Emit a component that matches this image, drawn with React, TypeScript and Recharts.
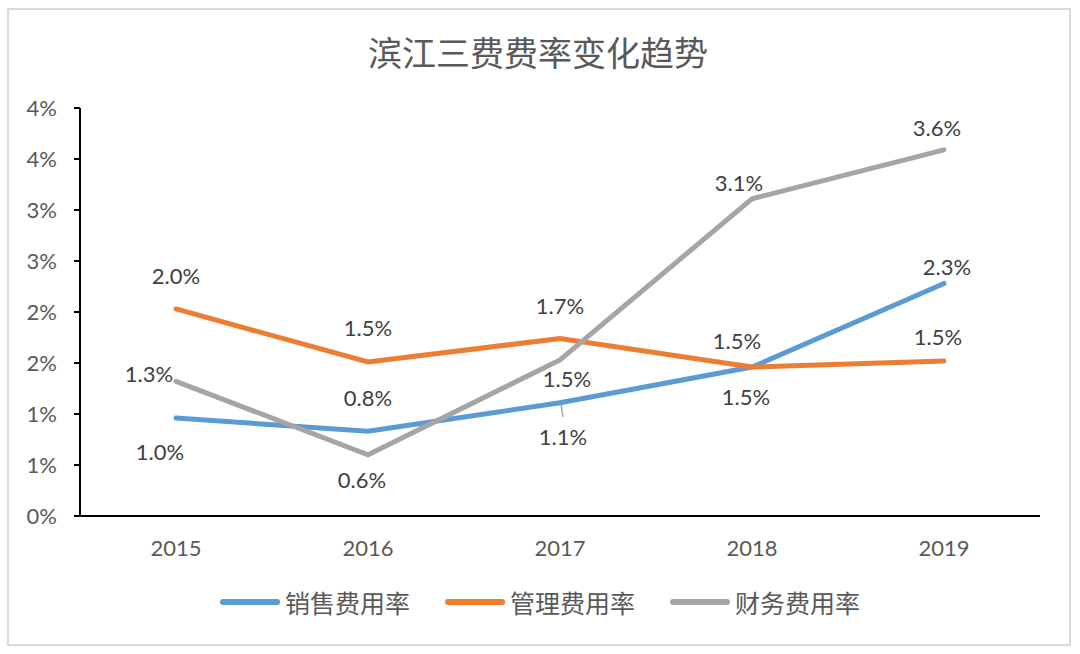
import { LineChart, Line, XAxis, YAxis, Legend, LabelList } from 'recharts';

const years = ['2015', '2016', '2017', '2018', '2019'];
const salesRate = [0.96, 0.83, 1.11, 1.46, 2.28];
const adminRate = [2.03, 1.51, 1.74, 1.46, 1.52];
const financeRate = [1.32, 0.6, 1.53, 3.11, 3.59];
const yTicks = [0, 0.5, 1, 1.5, 2, 2.5, 3, 3.5, 4];

const seriesNames = ['销售费用率', '管理费用率', '财务费用率'];
const seriesColors = ['#5B9BD5', '#ED7D31', '#A5A5A5'];

// label offsets from the point (text centre), per series
const salesLabelPos = [[-16, 33], [0, -34], [3, 34], [-6, 29], [3, -17]];
const adminLabelPos = [[0, -33], [0, -34], [0, -33], [-15, -27], [-6, -24]];
const financeLabelPos = [[-27, -8], [-6, 25], [7, 19], [-13, -16], [-7, -22]];

const data = years.map((year, i) => ({
  year,
  sales: salesRate[i],
  admin: adminRate[i],
  finance: financeRate[i]
}));

const numFont = 'Lato, "Noto Sans", sans-serif';
const cjkFont = '"Noto Sans CJK SC", sans-serif';

function makeLabel(pos: number[][], leaderAt = -1) {
  return (props: any) => {
    const { x, y, value, index } = props;
    const [dx, dy] = pos[index] || [0, -20];
    return (
      <g>
        {index === leaderAt && (
          <line x1={x + 1} y1={y + 2} x2={x + 3} y2={y + 14} stroke="#A5A5A5" strokeWidth={1.5} />
        )}
        <text
          x={x + dx}
          y={y + dy}
          textAnchor="middle"
          dominantBaseline="central"
          fill="#404040"
          fontSize={22}
          fontFamily={numFont}
        >
          {Number(value).toFixed(1)}%
        </text>
      </g>
    );
  };
}

function ChartLegend() {
  return (
    <div style={{ display: 'flex', justifyContent: 'center', alignItems: 'center', height: 36, paddingLeft: 20 }}>
      {seriesNames.map((name, i) => (
        <div key={name} style={{ display: 'flex', alignItems: 'center', marginRight: i < 2 ? 35 : 0 }}>
          <div style={{ width: 60, height: 6, borderRadius: 3, background: seriesColors[i], marginRight: 5 }} />
          <span style={{ fontFamily: cjkFont, fontSize: 25, color: '#595959' }}>{name}</span>
        </div>
      ))}
    </div>
  );
}

export default function App() {
  return (
    <div style={{ position: 'absolute', left: 0, top: 0, width: 1080, height: 654, background: '#fff' }}>
      <div
        style={{
          position: 'absolute',
          left: 7,
          top: 8,
          width: 1060,
          height: 634,
          border: '2px solid #d9d9d9'
        }}
      />
      <div
        style={{
          position: 'absolute',
          top: 30,
          left: 0,
          width: 1076,
          textAlign: 'center',
          fontFamily: cjkFont,
          fontSize: 34,
          lineHeight: '44px',
          color: '#595959'
        }}
      >
        滨江三费费率变化趋势
      </div>
      <div style={{ position: 'absolute', left: 0, top: 0 }}>
        <LineChart width={1080} height={654} data={data} margin={{ top: 108, right: 40, left: 20, bottom: 52 }}>
          <XAxis
            dataKey="year"
            padding={{ left: 96, right: 96 }}
            axisLine={{ stroke: '#000', strokeWidth: 2 }}
            tickLine={false}
            tickMargin={18}
            height={50}
            tick={{ fill: '#595959', fontSize: 22, fontFamily: numFont }}
          />
          <YAxis
            domain={[0, 4]}
            ticks={yTicks}
            width={60}
            axisLine={{ stroke: '#000', strokeWidth: 2 }}
            tickLine={{ stroke: '#000', strokeWidth: 2 }}
            tickSize={6}
            tickMargin={17}
            tickFormatter={(v: number) => `${v.toFixed(0)}%`}
            tick={{ fill: '#595959', fontSize: 22, fontFamily: numFont }}
          />
          <Legend verticalAlign="bottom" wrapperStyle={{ bottom: 34 }} content={() => <ChartLegend />} />
          <Line
            dataKey="sales"
            name={seriesNames[0]}
            stroke={seriesColors[0]}
            strokeWidth={5}
            strokeLinecap="round"
            dot={false}
            activeDot={false}
            isAnimationActive={false}
          >
            <LabelList dataKey="sales" content={makeLabel(salesLabelPos, 2)} />
          </Line>
          <Line
            dataKey="admin"
            name={seriesNames[1]}
            stroke={seriesColors[1]}
            strokeWidth={5}
            strokeLinecap="round"
            dot={false}
            activeDot={false}
            isAnimationActive={false}
          >
            <LabelList dataKey="admin" content={makeLabel(adminLabelPos)} />
          </Line>
          <Line
            dataKey="finance"
            name={seriesNames[2]}
            stroke={seriesColors[2]}
            strokeWidth={5}
            strokeLinecap="round"
            dot={false}
            activeDot={false}
            isAnimationActive={false}
          >
            <LabelList dataKey="finance" content={makeLabel(financeLabelPos)} />
          </Line>
        </LineChart>
      </div>
    </div>
  );
}
